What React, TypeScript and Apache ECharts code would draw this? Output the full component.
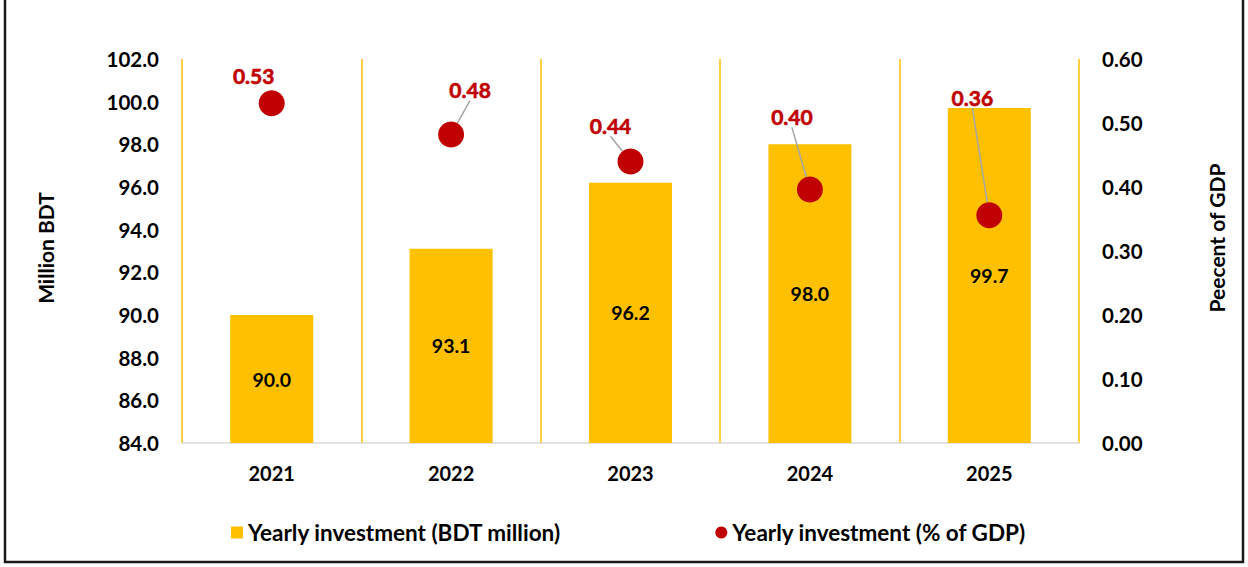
import React, { useEffect, useRef } from "react";
import * as echarts from "echarts";

const years = ["2021", "2022", "2023", "2024", "2025"];
const investmentBDT = [90.0, 93.1, 96.2, 98.0, 99.7];
const investmentGDP = [0.531, 0.482, 0.44, 0.396, 0.356];
const leftTicks = { min: 84, max: 102, interval: 2 };
const rightTicks = { min: 0, max: 0.6, interval: 0.1 };
const seriesNames = ["Yearly investment (BDT million)", "Yearly investment (% of GDP)"];
const axisNames = ["Million BDT", "Peecent of GDP"];

// label displacement (px) of the % labels, as in the original chart
const labelShift: [number, number][] = [
  [-18, -28],
  [19, -45],
  [-20, -36],
  [-18, -73],
  [-17, -118],
];

const FONT = "Lato, 'Open Sans', sans-serif";

export default function App() {
  const ref = useRef<HTMLDivElement>(null);
  useEffect(() => {
    if (!ref.current) return;
    const chart = echarts.init(ref.current, undefined, { renderer: "svg" });
    const textBase = { fontFamily: FONT, fontWeight: "bold" as const, color: "#000" };
    chart.setOption({
      animation: false,
      backgroundColor: "#fff",
      grid: { left: 182, right: 169, top: 59, bottom: 124, containLabel: false },
      xAxis: {
        type: "category",
        data: years,
        boundaryGap: true,
        axisLine: { show: true, lineStyle: { color: "#d9d9d9", width: 1.5 } },
        axisTick: { show: false },
        splitLine: { show: true, interval: 0, lineStyle: { color: "#FFC000", width: 1.5 } },
        axisLabel: { ...textBase, fontSize: 20, margin: 20 },
      },
      yAxis: [
        {
          type: "value",
          min: leftTicks.min,
          max: leftTicks.max,
          interval: leftTicks.interval,
          axisLine: { show: false },
          axisTick: { show: false },
          splitLine: { show: false },
          axisLabel: { ...textBase, fontSize: 20.5, margin: 23, formatter: (v: number) => v.toFixed(1) },
        },
        {
          type: "value",
          min: rightTicks.min,
          max: rightTicks.max,
          interval: rightTicks.interval,
          position: "right",
          axisLine: { show: false },
          axisTick: { show: false },
          splitLine: { show: false },
          axisLabel: { ...textBase, fontSize: 20.5, margin: 23, formatter: (v: number) => v.toFixed(2) },
        },
      ],
      legend: {
        left: 226,
        top: 516,
        itemWidth: 12,
        itemHeight: 12,
        itemGap: 154,
        textStyle: { ...textBase, fontSize: 22.5 },
        data: [
          { name: seriesNames[0], icon: "rect" },
          { name: seriesNames[1], icon: "circle" },
        ],
      },
      graphic: [
        {
          type: "rect",
          shape: { x: 5, y: -10, width: 1238, height: 572 },
          style: { fill: "none", stroke: "#1a1a1a", lineWidth: 2.5 },
          silent: true,
        },
        {
          type: "text",
          x: 45,
          y: 248,
          rotation: Math.PI / 2,
          style: {
            text: axisNames[0],
            font: `bold 21px ${FONT}`,
            fill: "#000",
            textAlign: "center",
            textVerticalAlign: "middle",
          },
        },
        {
          type: "text",
          x: 1216,
          y: 238,
          rotation: Math.PI / 2,
          style: {
            text: axisNames[1],
            font: `bold 21px ${FONT}`,
            fill: "#000",
            textAlign: "center",
            textVerticalAlign: "middle",
          },
        },
      ],
      series: [
        {
          name: seriesNames[0],
          type: "bar",
          yAxisIndex: 0,
          barWidth: 83,
          data: investmentBDT,
          itemStyle: { color: "#FFC000" },
          label: {
            show: true,
            position: "inside",
            ...textBase,
            fontSize: 19.5,
            textBorderWidth: 0,
            formatter: (p: any) => Number(p.value).toFixed(1),
          },
        },
        {
          name: seriesNames[1],
          type: "scatter",
          yAxisIndex: 1,
          symbol: "circle",
          symbolSize: 26,
          itemStyle: { color: "#C00000", opacity: 1 },
          z: 5,
          data: investmentGDP.map((v, i) => ({ value: v, labelLine: { show: i !== 0 } })),
          label: {
            show: true,
            position: "inside",
            fontFamily: FONT,
            fontWeight: 700,
            fontSize: 21,
            color: "#C00000",
            opacity: 1,
            textBorderColor: "#C00000",
            textBorderWidth: 0.6,
            formatter: (p: any) => Number(p.value).toFixed(2),
          },
          labelLine: { show: true, lineStyle: { color: "#A5A5A5", width: 1.5, opacity: 1 } },
          labelLayout: (params: any) => ({
            dx: labelShift[params.dataIndex][0],
            dy: labelShift[params.dataIndex][1],
          }),
        },
      ],
    });
    return () => chart.dispose();
  }, []);
  return (
    <div
      ref={ref}
      style={{ position: "fixed", left: 0, top: 0, width: 1248, height: 567 }}
    />
  );
}
